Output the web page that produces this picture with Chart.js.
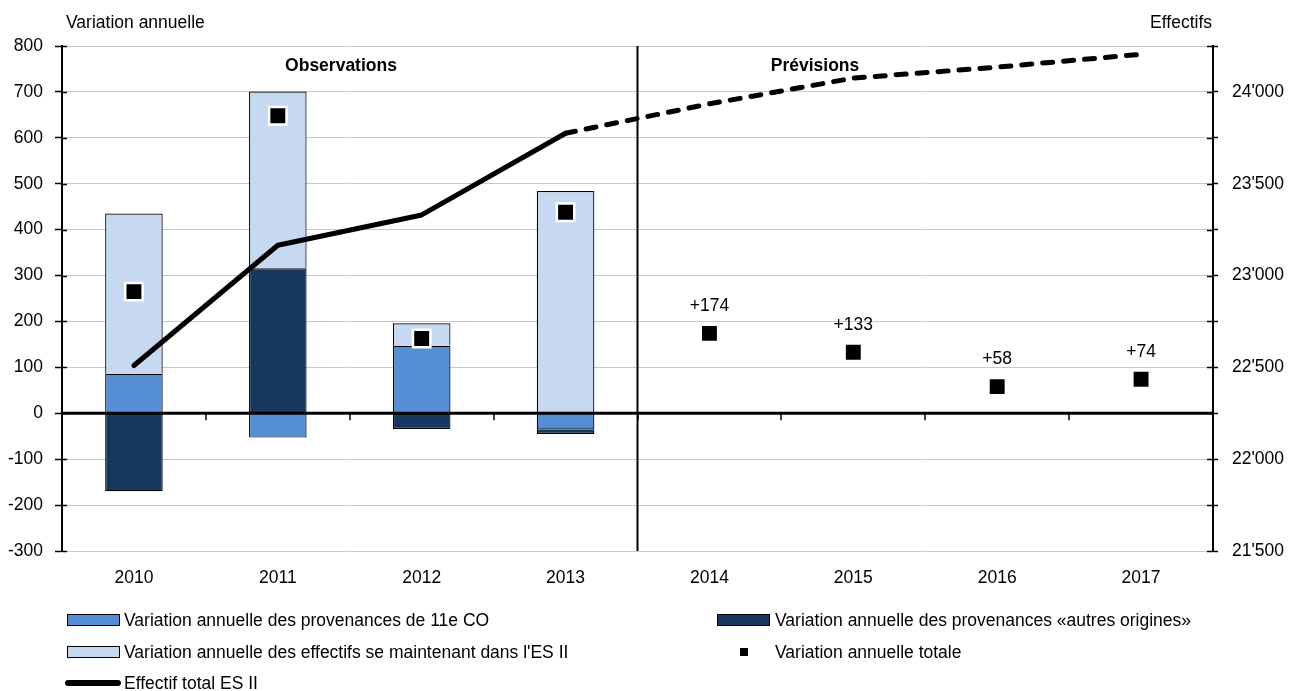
<!DOCTYPE html>
<html>
<head>
<meta charset="utf-8">
<script src="https://cdn.jsdelivr.net/npm/chart.js@4.4.1/dist/chart.umd.min.js"></script>
<style>
	html, body { margin: 0; padding: 0; background: #fff; }
	#wrap { position: relative; width: 1295px; height: 691px; overflow: hidden; font-family: 'Liberation Sans', Arial, sans-serif; }
	#wrap canvas { position: absolute; left: 0; top: 0; }
	.lg-text { position: absolute; font-size: 17.5px; line-height: 20px; color: #000; white-space: nowrap; }
	.lg-sym { position: absolute; box-sizing: border-box; }
</style>
</head>
<body>
<div id="wrap">
	<canvas id="chart" width="1295" height="691"></canvas>
	<div id="legend"></div>
</div>
<script>
// categories
const years = ['2010', '2011', '2012', '2013', '2014', '2015', '2016', '2017'];

// bar series (observed years only)
const fromCO = [86, -53, 147, -35, null, null, null, null];
const otherOrigins = [-170, 316, -34, -10, null, null, null, null];
const staying = [349, 385, 49, 484, null, null, null, null];

// total yearly change (markers) and total headcount (line, right axis)
const totalChange = [265, 648, 163, 438, 174, 133, 58, 74];
const totalStock = [22510, 23165, 23330, 23775, 23935, 24075, 24135, 24205];

// axes
const leftMin = -300, leftMax = 800, leftStep = 100;
const rightMin = 21500, rightMax = 24250, rightStep = 250, rightLabelStep = 500;

const firstForecast = 4;

const colours = {
	co: '#558ed5',
	other: '#17375e',
	staying: '#c6d9f1',
	grid: '#c9c9c9'
};

const fontFamily = "'Liberation Sans', Arial, sans-serif";

Chart.defaults.font.family = fontFamily;
Chart.defaults.font.size = 17.5;
Chart.defaults.color = '#000';

function thousands(v) {
	return String(v).replace(/\B(?=(\d{3})+(?!\d))/g, "'");
}

let decor = {
	id: 'decor',
	afterDatasetsDraw: function(chart) {
		let ctx = chart.ctx,
			area = chart.chartArea,
			x = chart.scales.x,
			y = chart.scales.y,
			y1 = chart.scales.y1,
			zero = y.getPixelForValue(0),
			step = (area.right - area.left) / years.length;

		ctx.save();
		ctx.strokeStyle = '#000';

		// zero line and its tick marks
		ctx.lineWidth = 3;
		ctx.beginPath();
		ctx.moveTo(area.left, zero);
		ctx.lineTo(area.right, zero);
		ctx.stroke();

		ctx.lineWidth = 1.5;
		for (let i = 1; i < years.length; i++) {
			let px = Math.round(area.left + i * step);
			ctx.beginPath();
			ctx.moveTo(px, zero);
			ctx.lineTo(px, zero + 7);
			ctx.stroke();
		}

		// inner half of the axis ticks
		y.ticks.forEach(function(t) {
			let py = Math.round(y.getPixelForValue(t.value)) + 0.5;
			ctx.beginPath();
			ctx.moveTo(area.left, py);
			ctx.lineTo(area.left + 5, py);
			ctx.stroke();
		});
		y1.ticks.forEach(function(t) {
			let py = Math.round(y1.getPixelForValue(t.value)) + 0.5;
			ctx.beginPath();
			ctx.moveTo(area.right - 6, py);
			ctx.lineTo(area.right, py);
			ctx.stroke();
		});

		// observations / forecasts separator
		let sep = (x.getPixelForValue(firstForecast - 1) + x.getPixelForValue(firstForecast)) / 2;
		ctx.lineWidth = 2;
		ctx.beginPath();
		ctx.moveTo(sep, area.top);
		ctx.lineTo(sep, area.bottom);
		ctx.stroke();

		// labels above the forecast markers
		let meta = chart.getDatasetMeta(3);
		ctx.fillStyle = '#000';
		ctx.font = '17.5px ' + fontFamily;
		ctx.textAlign = 'center';
		ctx.textBaseline = 'middle';
		for (let i = firstForecast; i < years.length; i++) {
			let p = meta.data[i];
			ctx.fillText('+' + totalChange[i], p.x, p.y - 27);
		}

		// section headings
		ctx.font = 'bold 17.5px ' + fontFamily;
		ctx.fillText('Observations', 341, 66);
		ctx.fillText('Prévisions', 815, 66);

		// axis titles
		ctx.font = '17.5px ' + fontFamily;
		ctx.textAlign = 'left';
		ctx.fillText('Variation annuelle', 66, 23);
		ctx.textAlign = 'right';
		ctx.fillText('Effectifs', 1212, 23);

		ctx.restore();
	}
};

let barStyle = {
	borderColor: '#000',
	borderWidth: 1.2,
	stack: 'bars',
	order: 3,
	barPercentage: 0.8,
	categoryPercentage: 0.5
};

let chart = new Chart(document.getElementById('chart'), {
	type: 'bar',
	data: {
		labels: years,
		datasets: [
			Object.assign({
				label: 'Variation annuelle des provenances de 11e CO',
				data: fromCO,
				backgroundColor: colours.co
			}, barStyle),
			Object.assign({
				label: 'Variation annuelle des provenances «autres origines»',
				data: otherOrigins,
				backgroundColor: colours.other
			}, barStyle),
			Object.assign({
				label: "Variation annuelle des effectifs se maintenant dans l'ES II",
				data: staying,
				backgroundColor: colours.staying
			}, barStyle),
			{
				type: 'line',
				label: 'Variation annuelle totale',
				data: totalChange,
				yAxisID: 'y',
				showLine: false,
				pointStyle: 'rect',
				pointRadius: 12.3,
				pointBackgroundColor: '#000',
				pointBorderColor: '#fff',
				pointBorderWidth: 2.5,
				order: 1
			},
			{
				type: 'line',
				label: 'Effectif total ES II',
				data: totalStock,
				yAxisID: 'y1',
				borderColor: '#000',
				borderWidth: 5,
				borderCapStyle: 'round',
				borderJoinStyle: 'round',
				pointRadius: 0,
				tension: 0,
				order: 2,
				segment: {
					borderDash: function(c) {
						return c.p0DataIndex >= firstForecast - 1 ? [10, 11] : undefined;
					}
				}
			}
		]
	},
	options: {
		responsive: false,
		animation: false,
		events: [],
		layout: {
			padding: { left: 0, right: 0, top: 46, bottom: 100 }
		},
		plugins: {
			legend: { display: false },
			tooltip: { enabled: false }
		},
		scales: {
			x: {
				stacked: true,
				offset: true,
				grid: { display: false },
				border: { display: false },
				ticks: { padding: 9 },
				afterFit: function(s) { s.height = 40; }
			},
			y: {
				position: 'left',
				stacked: true,
				min: leftMin,
				max: leftMax,
				ticks: { stepSize: leftStep, padding: 12 },
				grid: {
					color: function(c) { return c.tick && c.tick.value === 0 ? 'rgba(0,0,0,0)' : colours.grid; },
					lineWidth: 1,
					tickLength: 7,
					tickColor: '#000',
					tickWidth: 1.5
				},
				border: { display: true, color: '#000', width: 2 },
				afterFit: function(s) { s.width = 62; }
			},
			y1: {
				position: 'right',
				min: rightMin,
				max: rightMax,
				ticks: {
					stepSize: rightStep,
					autoSkip: false,
					padding: 14,
					callback: function(v) { return v % rightLabelStep === 0 ? thousands(v) : ''; }
				},
				grid: {
					drawOnChartArea: false,
					tickLength: 5,
					tickColor: '#000',
					tickWidth: 1.5
				},
				border: { display: true, color: '#000', width: 2 },
				afterFit: function(s) { s.width = 82; }
			}
		}
	},
	plugins: [decor]
});

// legend: two columns, built from the datasets
let legendSlots = [
	{ col: 0, row: 0 },
	{ col: 1, row: 0 },
	{ col: 0, row: 1 },
	{ col: 1, row: 1 },
	{ col: 0, row: 2 }
];
let colSym = [67, 717], colText = [124, 775], rowMid = [620, 652, 683];

let legend = document.getElementById('legend');
chart.data.datasets.forEach(function(ds, i) {
	let slot = legendSlots[i],
		mid = rowMid[slot.row],
		sym = document.createElement('div'),
		txt = document.createElement('div');

	sym.className = 'lg-sym';
	if (ds.type === 'line' && ds.showLine === false) {
		sym.style.cssText = 'left:' + (colSym[slot.col] + 23) + 'px;top:' + (mid - 4) + 'px;width:8px;height:8px;background:#000;';
	} else if (ds.type === 'line') {
		sym.style.cssText = 'left:' + (colSym[slot.col] - 2) + 'px;top:' + (mid - 3) + 'px;width:56px;height:6px;border-radius:3px;background:#000;';
	} else {
		sym.style.cssText = 'left:' + colSym[slot.col] + 'px;top:' + (mid - 6) + 'px;width:53px;height:12px;border:1.5px solid #000;background:' + ds.backgroundColor + ';';
	}

	txt.className = 'lg-text';
	txt.textContent = ds.label;
	txt.style.left = colText[slot.col] + 'px';
	txt.style.top = (mid - 10) + 'px';

	legend.appendChild(sym);
	legend.appendChild(txt);
});
</script>
</body>
</html>
